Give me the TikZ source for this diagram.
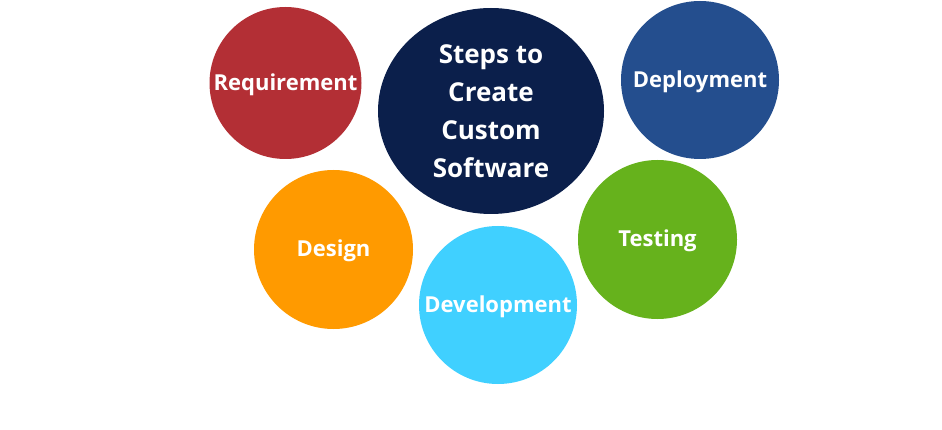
\documentclass[tikz,border=0pt]{standalone}
\usepackage{fontspec}
\setmainfont{Open Sans}
\usetikzlibrary{shapes.geometric}
\definecolor{cReq}{HTML}{B32F35}
\definecolor{cSteps}{HTML}{0B1F4B}
\definecolor{cDep}{HTML}{244E8E}
\definecolor{cDes}{HTML}{FF9A00}
\definecolor{cDev}{HTML}{40D0FF}
\definecolor{cTest}{HTML}{66B21C}
\tikzset{
  bubble/.style={circle, fill=#1, draw=none, inner sep=0pt, text=white,
    text height=16pt, text depth=1pt,
    font=\fontsize{22}{26}\selectfont\bfseries},
}
\begin{document}
\begin{tikzpicture}[x=1pt,y=-1pt]
\useasboundingbox (0,0) rectangle (942,430);
\node[bubble=cReq, minimum size=152pt] (req) at (285.5,83) {Requirement};
\node[ellipse, fill=cSteps, inner sep=0pt, minimum width=226pt, minimum height=206pt,
      text=white, align=center, font=\fontsize{26}{38}\selectfont\bfseries] (steps) at (491,111)
      {Steps to\\Create\\Custom\\Software};
\node[bubble=cDep, minimum size=158pt] (dep) at (700,80) {Deployment};
\node[bubble=cDes, minimum size=159pt] (des) at (333.5,249.5) {Design};
\node[bubble=cDev, minimum size=158pt] (dev) at (498,305) {Development};
\node[bubble=cTest, minimum size=159pt] (test) at (657.5,239.5) {Testing};
\end{tikzpicture}
\end{document}
